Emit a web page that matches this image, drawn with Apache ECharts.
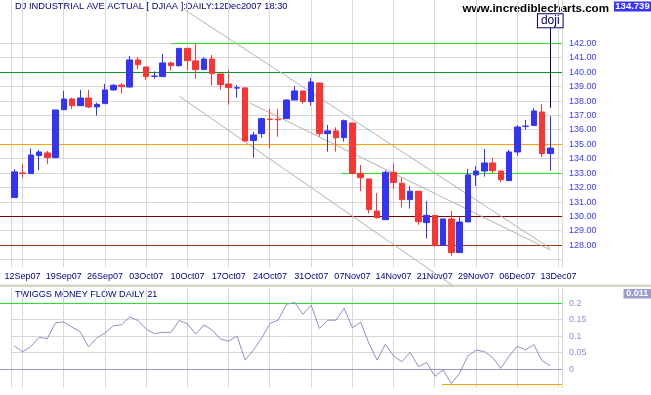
<!DOCTYPE html>
<html><head><meta charset="utf-8">
<script src="https://cdn.jsdelivr.net/npm/echarts@6/dist/echarts.min.js"></script>
<style>html,body{margin:0;padding:0;background:#fff;}#c{width:651px;height:395px;}</style>
</head><body><div id="c"></div>
<script>
// ---------------- DATA ----------------
const tradingDays = ['11Sep07','12Sep07','13Sep07','14Sep07','17Sep07','18Sep07','19Sep07','20Sep07','21Sep07','24Sep07','25Sep07','26Sep07','27Sep07','28Sep07',
 '01Oct07','02Oct07','03Oct07','04Oct07','05Oct07','08Oct07','09Oct07','10Oct07','11Oct07','12Oct07','15Oct07','16Oct07','17Oct07','18Oct07','19Oct07','22Oct07','23Oct07','24Oct07','25Oct07','26Oct07','29Oct07','30Oct07','31Oct07',
 '01Nov07','02Nov07','05Nov07','06Nov07','07Nov07','08Nov07','09Nov07','12Nov07','13Nov07','14Nov07','15Nov07','16Nov07','19Nov07','20Nov07','21Nov07','23Nov07','26Nov07','27Nov07','28Nov07','29Nov07','30Nov07',
 '03Dec07','04Dec07','05Dec07','06Dec07','07Dec07','10Dec07','11Dec07','12Dec07'];
const axisEndDay = '13Dec07';
const tickDays = ['12Sep07','19Sep07','26Sep07','03Oct07','10Oct07','17Oct07','24Oct07','31Oct07','07Nov07','14Nov07','21Nov07','29Nov07','06Dec07','13Dec07'];

const opens = [131.31,133.02,132.97,134.22,134.40,134.08,137.40,138.14,137.68,138.21,
 137.59,137.82,138.77,139.11,138.97,140.85,140.36,139.71,139.69,140.64,
 140.45,141.65,140.78,140.18,140.91,139.88,139.18,138.90,138.91,135.26,
 135.74,136.75,136.74,136.78,138.07,138.70,137.96,139.25,135.74,135.93,
 135.46,136.48,132.99,132.60,130.38,129.78,133.06,132.30,131.17,131.75,
 129.58,130.08,128.00,129.83,127.50,129.62,132.88,133.15,133.71,133.15,
 132.48,134.47,136.24,136.30,137.24,134.36];
const highs = [133.29,133.64,134.70,134.61,134.54,137.38,138.70,138.24,138.77,138.77,
 137.89,139.18,139.18,139.25,141.12,141.05,140.36,140.06,141.26,140.73,
 141.65,141.65,142.00,141.03,141.19,139.88,140.15,139.11,138.91,135.86,
 136.83,137.45,137.45,138.14,139.04,138.70,139.60,139.25,136.34,136.18,
 136.71,136.48,133.57,132.60,131.63,133.20,133.69,132.67,132.12,131.75,
 131.08,130.08,129.83,130.38,129.99,133.29,133.50,134.68,134.06,133.15,
 134.61,136.32,136.69,137.50,137.80,136.96];
const lows = [131.31,132.69,132.97,133.22,133.64,134.08,137.40,137.45,137.68,137.52,
 136.99,137.82,138.72,138.51,138.93,140.20,139.46,139.55,139.69,140.11,
 140.38,140.11,139.55,140.18,139.07,138.79,137.75,138.24,135.23,134.08,
 135.46,134.72,135.53,136.78,138.07,137.82,137.68,135.53,134.49,134.49,
 135.19,132.92,131.75,130.22,129.85,129.78,131.92,130.64,130.55,129.43,
 128.47,127.91,128.00,127.27,127.50,129.62,132.11,132.76,132.99,132.39,
 132.48,134.21,136.02,136.30,134.12,133.17];
const closes = [133.09,132.98,134.26,134.47,134.08,137.38,138.14,137.68,138.21,137.59,
 137.77,138.77,139.09,139.00,140.85,140.52,139.69,139.73,140.64,140.45,
 141.65,140.80,140.18,140.91,139.90,139.14,138.93,138.92,135.23,135.65,
 136.78,136.72,136.70,138.07,138.70,137.96,139.32,135.74,135.93,135.46,
 136.64,132.99,132.69,130.48,129.92,133.06,132.35,131.17,131.75,129.64,
 130.08,128.00,129.83,127.50,129.62,132.88,133.15,133.71,133.18,132.55,
 134.47,136.20,136.26,137.31,134.36,134.739];
const tmf = [0.071,0.053,0.069,0.097,0.093,0.141,0.144,0.128,0.114,0.068,
 0.095,0.110,0.132,0.135,0.159,0.148,0.122,0.108,0.112,0.112,
 0.148,0.138,0.107,0.135,0.119,0.092,0.085,0.101,0.028,0.058,
 0.095,0.139,0.149,0.197,0.203,0.167,0.195,0.124,0.149,0.149,
 0.185,0.126,0.143,0.079,0.028,0.076,0.041,0.023,0.052,0.008,
 0.021,-0.021,-0.002,-0.043,-0.012,0.041,0.058,0.054,0.036,0.003,
 0.040,0.070,0.059,0.075,0.026,0.011];

const priceGridValues = [127,128,129,130,131,132,133,134,135,136,137,138,139,140,141,142];
const priceTickValues = [128,129,130,131,132,133,134,135,136,137,138,139,140,141,142];
const tmfGridValues = [0.05,0.1,0.15];
const tmfTickValues = [0.2,0.15,0.1,0.05,0];

// drawn horizontal price levels (full width) and partial ones (start day index)
const fullLevels = [140,135,130,128];
const partialLevels = [142,133];
const partialLevelStarts = [19.0,39.6];
// drawn trend lines: [startIdx, startPrice, endIdx, endPrice]
const trendLines = [[20.70,144.31,65.0,127.79],[20.01,138.33,53.08,125.25],[28.58,137.86,65.0,127.68]];
// doji annotation (day index, price from, price to)
const dojiNote = [65,137.54,143.11];
// TMF levels
const tmfFullLevels = [0.2,0];
const tmfLowLevel = -0.045, tmfLowStart = 51.83;

// ---------------- LAYOUT / STYLE ----------------
const FONT = "'Liberation Sans', Arial, sans-serif";
const BLUE = '#3434f6', RED = '#fb3434';
const GRID_C = '#d8d8d8';
const X_MIN = -2, X_MAX = 66.42, X_BORDER = -0.34, X_LEFT = -1.734;
const Y_MIN = 126.5, Y_MAX = 145;
const T_MIN = -0.055, T_MAX = 0.2456;
const fullLevelColors = ['#07982c','#ffa200','#800000','#9a3a08'];
const partialLevelColors = ['#2ee02e','#2ee02e'];
const tmfLevelColors = ['#2ee02e','#9898cc'];

const calendar = tradingDays.concat([axisEndDay]);
const tickIdx = tickDays.map(d => calendar.indexOf(d));
const near = (a,b) => Math.abs(a-b) < 1e-6;

const candleData = opens.map((o,i) => [i, o, closes[i], lows[i], highs[i]]);
const tmfData = tmf.map((v,i) => [i, v]);

const snap = p => Math.round(p - 0.5) + 0.5;
// horizontal segments: rows [xFrom, xTo, y]
function hLines(axisIdx, rows, color, z) {
  return {type:'custom', xAxisIndex:axisIdx, yAxisIndex:axisIdx, z:z, silent:true, animation:false, clip:false, data:rows,
    renderItem:(params, api) => {
      const a = api.coord([api.value(0), api.value(2)]), b = api.coord([api.value(1), api.value(2)]);
      const y = snap(a[1]);
      return {type:'line', silent:true, shape:{x1:Math.round(a[0]), y1:y, x2:Math.round(b[0]), y2:y}, style:{stroke:color, lineWidth:1}};
    }};
}
// vertical segments: rows [x, yFrom, yTo]
function vLines(axisIdx, rows, color, z) {
  return {type:'custom', xAxisIndex:axisIdx, yAxisIndex:axisIdx, z:z, silent:true, animation:false, clip:false, data:rows,
    renderItem:(params, api) => {
      const a = api.coord([api.value(0), api.value(1)]), b = api.coord([api.value(0), api.value(2)]);
      const x = snap(a[0]);
      return {type:'line', silent:true, shape:{x1:x, y1:Math.round(a[1]), x2:x, y2:Math.round(b[1])}, style:{stroke:color, lineWidth:1}};
    }};
}
function seg(axisIdx, pts, color, z) {
  return {type:'line', xAxisIndex:axisIdx, yAxisIndex:axisIdx, data:pts, symbol:'none', showSymbol:false,
    silent:true, clip:false, z:z, animation:false, lineStyle:{color:color, width:1, type:'solid'}, emphasis:{disabled:true}};
}

const series = [];
// grid lines & borders
series.push(hLines(0, priceGridValues.map(v => [X_LEFT, X_MAX, v]), GRID_C, 1));
series.push(vLines(0, tickIdx.concat([X_BORDER, X_MAX]).map(i => [i, Y_MIN, Y_MAX]), GRID_C, 1));
series.push(hLines(1, tmfGridValues.map(v => [X_BORDER, X_MAX, v]), GRID_C, 1));
series.push(vLines(1, tickIdx.concat([X_BORDER, X_MAX]).map(i => [i, T_MIN, T_MAX]), GRID_C, 1));
// price levels
fullLevels.forEach((v,k) => series.push(hLines(0, [[X_LEFT, X_MAX, v]], fullLevelColors[k], 3)));
partialLevels.forEach((v,k) => series.push(hLines(0, [[partialLevelStarts[k], X_MAX, v]], partialLevelColors[k], 3)));
// trend lines
trendLines.forEach(t => series.push(seg(0, [[t[0], t[1]], [t[2], t[3]]], '#b2b2b2', 3)));
// candles
series.push({type:'candlestick', xAxisIndex:0, yAxisIndex:0, z:10, barWidth:6, data:candleData, silent:true,
  itemStyle:{color:BLUE, color0:RED, borderColor:BLUE, borderColor0:RED, borderWidth:1}});
// doji note
series.push({type:'line', xAxisIndex:0, yAxisIndex:0, data:[], markLine:{silent:true, symbol:'none', z:12, animation:false,
  emphasis:{disabled:true},
  data:[[{coord:[dojiNote[0], dojiNote[1]], lineStyle:{color:'#00006a', width:1, type:'solid'},
    label:{show:true, position:'end', distance:0, formatter:'doji', color:'#00006a', fontSize:12, fontFamily:FONT,
      backgroundColor:'#ffffff', borderColor:'#00006a', borderWidth:1, padding:[0,3,0,3], lineHeight:13}},
    {coord:[dojiNote[0], dojiNote[2]]}]]}});
// TMF levels
tmfFullLevels.forEach((v,k) => series.push(hLines(1, [[X_LEFT, X_MAX, v]], tmfLevelColors[k], 3)));
series.push(hLines(1, [[tmfLowStart, X_MAX, tmfLowLevel]], '#ffa200', 3));
// TMF line
series.push({type:'line', xAxisIndex:1, yAxisIndex:1, z:10, data:tmfData, showSymbol:false, symbol:'none', silent:true,
  lineStyle:{color:'#8e8ec8', width:1}});

const chart = echarts.init(document.getElementById('c'), null, {renderer:'canvas'});
chart.setOption({
  animation:false,
  backgroundColor:'#ffffff',
  textStyle:{fontFamily:FONT},
  grid:[
    {left:-2.19, right:89, top:0, height:267, outerBoundsMode:'none', containLabel:false},
    {left:-2.19, right:89, top:288.3, height:99.2, outerBoundsMode:'none', containLabel:false}
  ],
  xAxis:[
    {type:'value', gridIndex:0, min:X_MIN, max:X_MAX, interval:1, splitLine:{show:false},
     axisLine:{show:false}, axisTick:{show:false},
     axisLabel:{margin:5, fontSize:9, color:'#000080', fontFamily:FONT,
       formatter:v => { const i = Math.round(v); return (near(v,i) && tickIdx.indexOf(i) >= 0) ? calendar[i] : ''; }}},
    {type:'value', gridIndex:1, min:X_MIN, max:X_MAX, splitLine:{show:false},
     axisLine:{show:false}, axisTick:{show:false}, axisLabel:{show:false}}
  ],
  yAxis:[
    {type:'value', gridIndex:0, position:'right', min:Y_MIN, max:Y_MAX, interval:0.5, splitLine:{show:false},
     axisLine:{show:false}, axisTick:{show:false},
     axisLabel:{margin:7, fontSize:9, color:'#3c3cee', fontFamily:FONT,
       formatter:v => priceTickValues.some(t => near(t,v)) ? v.toFixed(2) : ''}},
    {type:'value', gridIndex:1, position:'right', min:T_MIN, max:T_MAX, interval:0.005, splitLine:{show:false},
     axisLine:{show:false}, axisTick:{show:false},
     axisLabel:{margin:7, fontSize:9, color:'#8f8fd4', fontFamily:FONT,
       formatter:v => { const t = tmfTickValues.find(t => near(t,v)); return t === undefined ? '' : String(t); }}}
  ],
  series: series,
  graphic:[
    {type:'rect', x:0, y:284.5, shape:{width:651, height:2.5}, style:{fill:'#d6d2c6'}, silent:true},
    {type:'text', x:15, y:2, style:{text:'DJ INDUSTRIAL AVE ACTUAL [ DJIAA ]:DAILY:12Dec2007 18:30', fontSize:9.3, fontFamily:FONT, fill:'#000080', align:'left', verticalAlign:'top'}},
    {type:'text', x:609, y:2.5, style:{text:'www.incrediblecharts.com', fontSize:11.6, fontWeight:'bold', fontFamily:FONT, fill:'#000000', align:'right', verticalAlign:'top'}},
    {type:'rect', x:614, y:1.5, shape:{width:37, height:10}, style:{fill:'#3636ff'}},
    {type:'text', x:632.5, y:6.8, style:{text:closes[closes.length-1].toFixed(3), fontSize:9.5, fontWeight:'bold', fontFamily:FONT, fill:'#ffffff', align:'center', verticalAlign:'middle'}},
    {type:'text', x:15, y:289.5, style:{text:'TWIGGS MONEY FLOW DAILY 21', fontSize:9.1, fontFamily:FONT, fill:'#000080', align:'left', verticalAlign:'top'}},
    {type:'rect', x:623.5, y:289, shape:{width:27.5, height:9.5}, style:{fill:'#9c9cd0'}},
    {type:'text', x:637.3, y:294, style:{text:tmf[tmf.length-1].toFixed(3), fontSize:9, fontWeight:'bold', fontFamily:FONT, fill:'#ffffff', align:'center', verticalAlign:'middle'}}
  ]
});
</script></body></html>
